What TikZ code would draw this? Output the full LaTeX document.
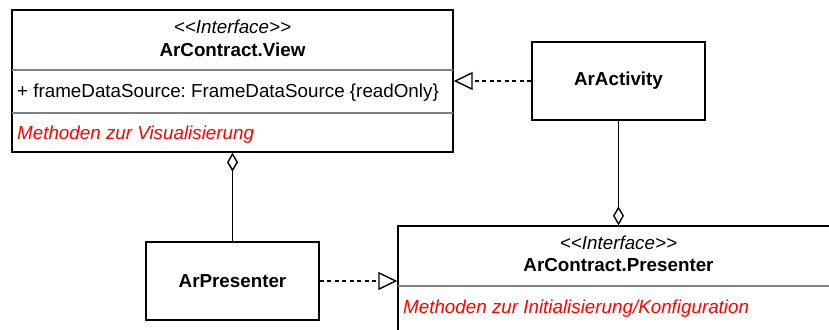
\documentclass[tikz,border=0pt]{standalone}
\usepackage{fontspec}
\setmainfont{Liberation Sans}
\usetikzlibrary{arrows.meta,positioning}
\frenchspacing

\tikzset{
  umlbox/.style={draw,line width=1.4pt,minimum width=173pt,minimum height=78pt,font=\fontsize{18.8}{22}\selectfont\bfseries},
  ifbox/.style={draw,line width=1.4pt,minimum width=441pt,minimum height=142pt},
  txt/.style={inner sep=0pt,font=\fontsize{18.8}{22}\selectfont},
  ops/.style={txt,anchor=west,text=red,font=\fontsize{18.8}{22}\selectfont\itshape},
  sep/.style={draw=gray,line width=1.6pt},
  realize/.style={line width=1.4pt,dash pattern=on 4pt off 3.5pt,-{Triangle[open,length=19pt,width=18pt,line width=1.4pt]}},
  aggr/.style={line width=1.5pt,-{Diamond[open,length=19pt,width=11pt,line width=1.4pt]}}
}

\begin{document}
\begin{tikzpicture}[x=1pt,y=-1pt]
\useasboundingbox (0,0) rectangle (829,329);

\node[ifbox] (View) at (232.5,81) {};
\node[txt,font=\fontsize{18.8}{22}\selectfont\itshape] (ViewStereo) at (232.5,26.5) {<{}<Interface>{}>};
\node[txt,font=\fontsize{18.8}{22}\selectfont\bfseries] (ViewName) at (232.5,49.5) {ArContract.View};
\node[txt,anchor=west] (ViewAttr) at (17,93) {+ frameDataSource: FrameDataSource \{readOnly\}};
\node[ops] (ViewOps) at (17,134.5) {Methoden zur Visualisierung};
\draw[sep] (View.west |- 0,70) -- (View.east |- 0,70);
\draw[sep] (View.west |- 0,113) -- (View.east |- 0,113);
\draw[line width=1.4pt] (View.north west) rectangle (View.south east);

\node[umlbox] (Activity) at (618.5,81) {ArActivity};
\node[umlbox] (ArPres) at (232.5,281) {ArPresenter};

\node[ifbox] (Pres) at (618.5,297) {};
\node[txt,font=\fontsize{18.8}{22}\selectfont\itshape] (PresStereo) at (618.5,242.5) {<{}<Interface>{}>};
\node[txt,font=\fontsize{18.8}{22}\selectfont\bfseries] (PresName) at (618.5,265.5) {ArContract.Presenter};
\node[ops] (PresOps) at (403,308.5) {Methoden zur Initialisierung/Konfiguration};
\draw[sep] (Pres.west |- 0,286) -- (Pres.east |- 0,286);
\draw[line width=1.4pt] (Pres.north west) rectangle (Pres.south east);

\draw[realize] (Activity.west) -- (View.east |- Activity.west);
\draw[realize] (ArPres.east) -- (Pres.west |- ArPres.east);
\draw[aggr] (Activity.south) -- (Pres.north -| Activity.south);
\draw[aggr] (ArPres.north) -- (View.south -| ArPres.north);
\end{tikzpicture}
\end{document}
